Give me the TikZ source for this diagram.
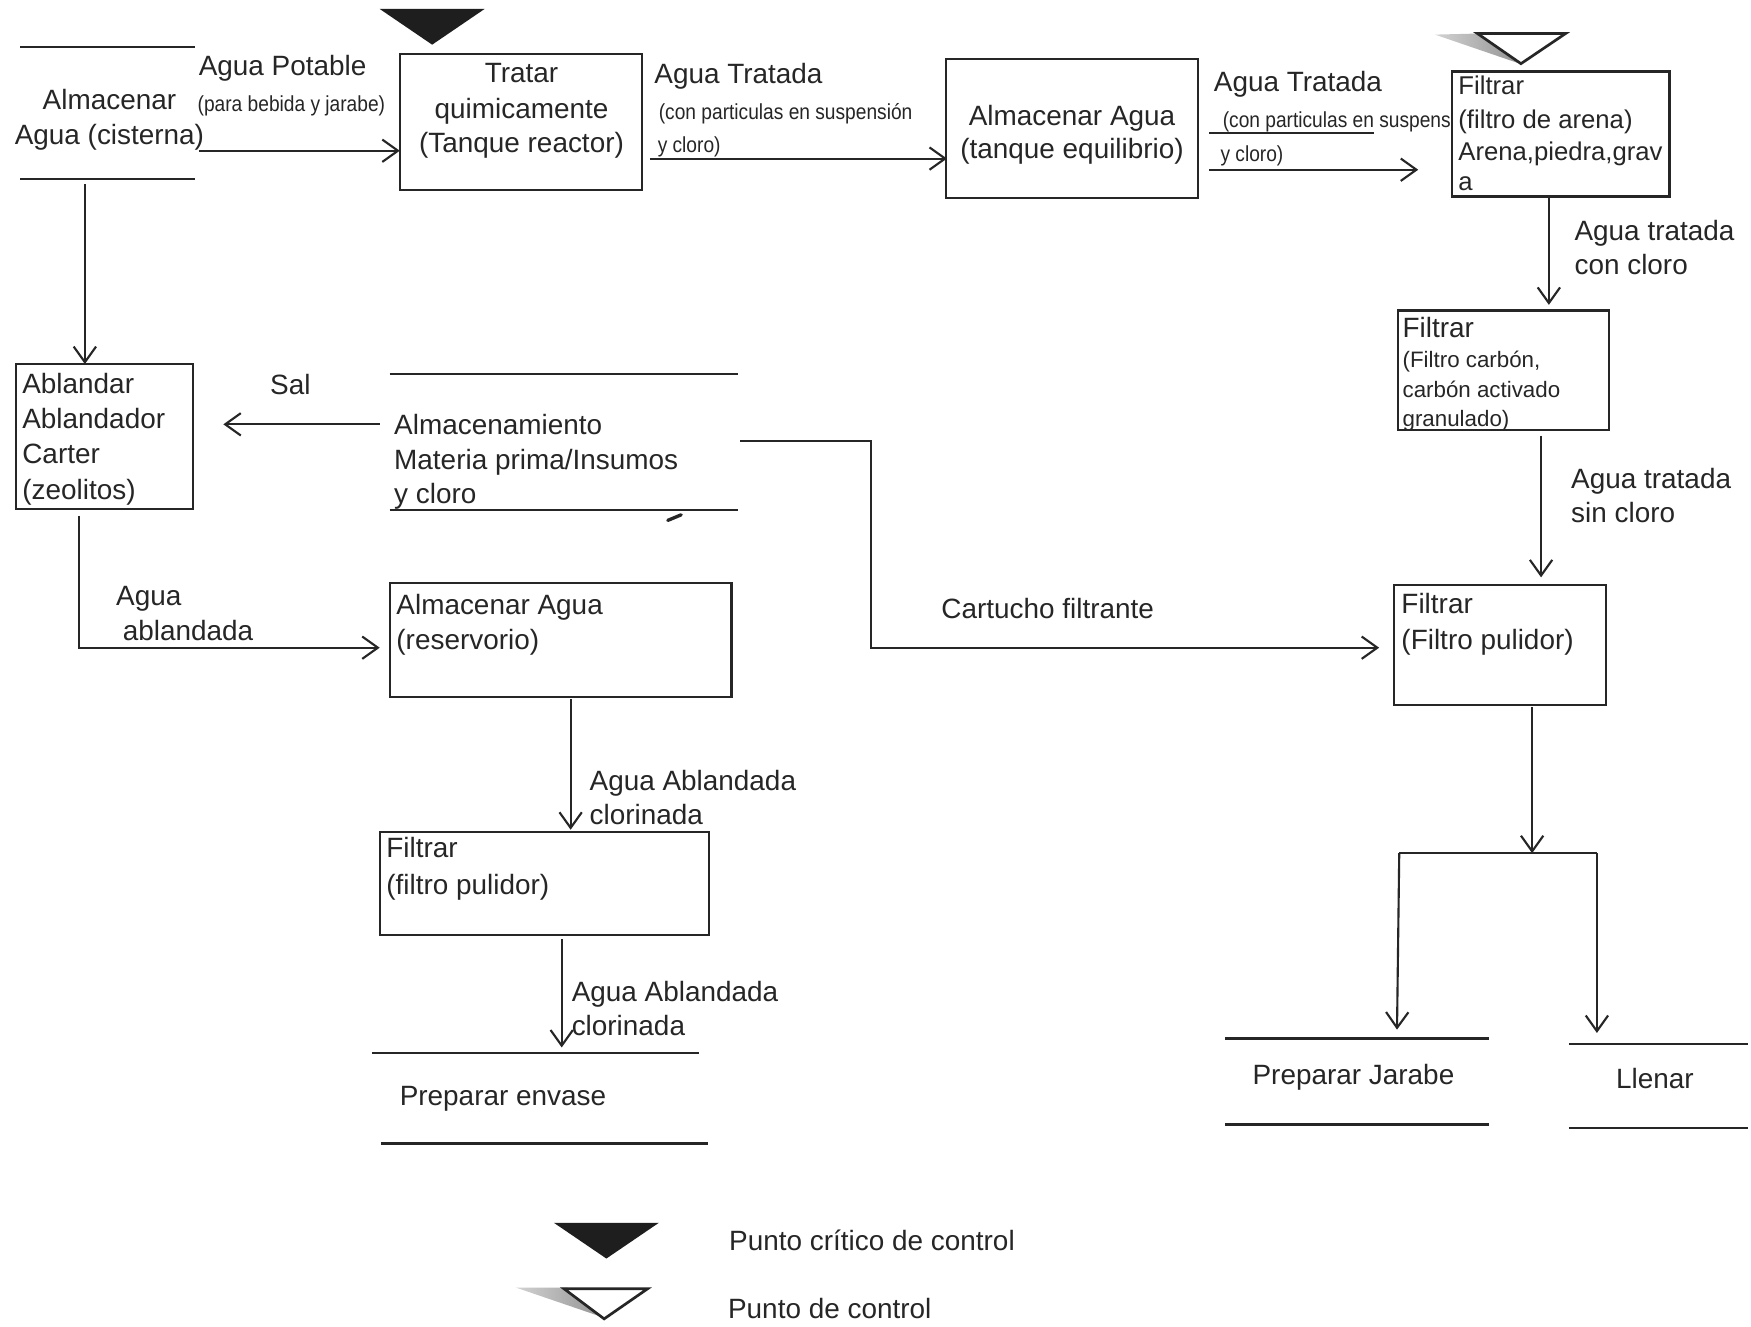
\documentclass[tikz,border=0pt]{standalone}
\usepackage{fontspec}
\setmainfont{Liberation Sans}
\newfontfamily\narrowfont[FakeStretch=0.88]{Liberation Sans}
\usetikzlibrary{arrows.meta,calc}
\definecolor{ink}{HTML}{262626}
\tikzset{
  every node/.style={inner sep=0pt, outer sep=0pt, text=ink},
  lbl/.style={anchor=base west, font=\fontsize{25}{31}\selectfont},
  lblc/.style={anchor=base, font=\fontsize{25}{31}\selectfont},
  mid/.style={anchor=base west, font=\fontsize{23}{29}\selectfont},
  sml/.style={anchor=base west, font=\fontsize{20}{27}\selectfont},
  tiny/.style={anchor=base west, font=\narrowfont\fontsize{19.5}{24}\selectfont},
  proc/.style={draw=ink, line width=1.9pt, rectangle, anchor=north west},
  store/.style={rectangle, anchor=north west},
  wire/.style={draw=ink, line width=1.9pt},
  flow/.style={wire, -{Straight Barb[length=14pt,width=20pt]}},
  shadowmark/.style={left color=gray!35, right color=gray!85},
}
\begin{document}
\begin{tikzpicture}[x=1pt,y=-1pt]
\fill[white] (0,0) rectangle (1568,1188);
\useasboundingbox (0,0) rectangle (1568,1188);

% ---------- process boxes ----------
\node[proc, minimum width=217pt, minimum height=122pt] (trat)  at (358,48)  {};
\node[proc, minimum width=226pt, minimum height=124pt] (equil) at (847,53)  {};
\node[proc, minimum width=195pt, minimum height=112pt] (fil1)  at (1300,64) {};
\node[proc, minimum width=189pt, minimum height=107pt] (fil2)  at (1252,278) {};
\node[proc, minimum width=190pt, minimum height=107pt] (fil3)  at (1248,524) {};
\node[proc, minimum width=159pt, minimum height=130pt] (abl)   at (14,326)  {};
\node[proc, minimum width=306pt, minimum height=102pt] (res)   at (349,522) {};
\node[proc, minimum width=295pt, minimum height=92pt]  (fil4)  at (340,745) {};

% ---------- stores (two parallel lines) ----------
\node[store, minimum width=157pt, minimum height=118pt] (cist) at (18,42)   {};
\node[store, minimum width=312pt, minimum height=122pt] (alm)  at (349,335) {};
\node[store, minimum width=301pt, minimum height=81pt]  (env)  at (333,943) {};
\node[store, minimum width=236pt, minimum height=77pt]  (jar)  at (1097,930) {};
\node[store, minimum width=160pt, minimum height=75pt]  (lle)  at (1405,935) {};
\foreach \s in {cist,alm,jar,lle}{
  \draw[wire] (\s.north west) -- (\s.north east);
  \draw[wire] (\s.south west) -- (\s.south east);
}
\draw[wire] (env.north west) -- ([xshift=-8pt]env.north east);
\draw[wire] ([xshift=8pt]env.south west) -- (env.south east);

% ---------- texts ----------
\node[lblc] (tcist1) at (98,98)  {Almacenar};
\node[lblc] (tcist2) at (98,129) {Agua (cisterna)};

\node[lbl]  (lpot1) at (178,68)  {Agua Potable};
\node[tiny] (lpot2) at (177,100) {(para bebida y jarabe)};

\node[lblc] (ttrat1) at (467,74)  {Tratar};
\node[lblc] (ttrat2) at (467,106) {quimicamente};
\node[lblc] (ttrat3) at (467,137) {(Tanque reactor)};

\node[lbl]  (ltr1) at (586,75)  {Agua Tratada};
\node[tiny] (ltr2) at (590,107) {(con particulas en suspensión};
\node[tiny] (ltr3) at (589,137) {y cloro)};

\node[lblc] (tequ1) at (960,112) {Almacenar Agua};
\node[lblc] (tequ2) at (960,142) {(tanque equilibrio)};

\node[lbl]  (ltr4) at (1087,82)  {Agua Tratada};
\node[tiny] (ltr5) at (1095,114) {(con particulas en suspens};
\node[tiny] (ltr6) at (1093,145) {y cloro)};

\node[mid] (tf11) at (1306,85)  {Filtrar};
\node[mid] (tf12) at (1306,115) {(filtro de arena)};
\node[mid] (tf13) at (1306,144) {Arena,piedra,grav};
\node[mid] (tf14) at (1306,171) {a};

\node[lbl] (lcc1) at (1410,215) {Agua tratada};
\node[lbl] (lcc2) at (1410,246) {con cloro};

\node[lbl] (tf21) at (1256,302) {Filtrar};
\node[sml] (tf22) at (1256,329) {(Filtro carbón,};
\node[sml] (tf23) at (1256,356) {carbón activado};
\node[sml] (tf24) at (1256,382) {granulado)};

\node[lbl] (lsc1) at (1407,437) {Agua tratada};
\node[lbl] (lsc2) at (1407,468) {sin cloro};

\node[lbl] (tf31) at (1255,549) {Filtrar};
\node[lbl] (tf32) at (1255,582) {(Filtro pulidor)};

\node[lblc] (tjar) at (1212,971) {Preparar Jarabe};
\node[lblc] (tlle) at (1482,975) {Llenar};

\node[lbl] (tab1) at (20,352) {Ablandar};
\node[lbl] (tab2) at (20,384) {Ablandador};
\node[lbl] (tab3) at (20,415) {Carter};
\node[lbl] (tab4) at (20,447) {(zeolitos)};

\node[lbl] (lsal) at (242,353) {Sal};

\node[lbl] (tal1) at (353,389) {Almacenamiento};
\node[lbl] (tal2) at (353,420) {Materia prima/Insumos};
\node[lbl] (tal3) at (353,451) {y cloro};

\node[lbl] (lab1) at (104,542) {Agua};
\node[lbl] (lab2) at (110,574) {ablandada};

\node[lbl] (tres1) at (355,550) {Almacenar Agua};
\node[lbl] (tres2) at (355,582) {(reservorio)};

\node[lbl] (lcart) at (843,554) {Cartucho filtrante};

\node[lbl] (lac1) at (528,708) {Agua Ablandada};
\node[lbl] (lac2) at (528,738) {clorinada};

\node[lbl] (tf41) at (346,768) {Filtrar};
\node[lbl] (tf42) at (346,801) {(filtro pulidor)};

\node[lbl] (lac3) at (512,897) {Agua Ablandada};
\node[lbl] (lac4) at (512,927) {clorinada};

\node[lbl] (tenv) at (358,990) {Preparar envase};

% ---------- connectors ----------
\draw[flow] ([shift={(3,93)}]cist.north east) -- ([shift={(0,87)}]trat.north west);
\draw[flow] ([shift={(7,94)}]trat.north east) -- ([shift={(1,89)}]equil.north west);
\draw[wire] ([shift={(10,66)}]equil.north east) -- ([shift={(157,66)}]equil.north east);
\draw[flow] ([shift={(10,99)}]equil.north east) -- ([shift={(-30,88)}]fil1.north west);
\draw[flow] ([shift={(87,1)}]fil1.south west) -- ([shift={(135,-5)}]fil2.north west);
\draw[flow] ([shift={(128,5)}]fil2.south west) -- ([shift={(132,-7)}]fil3.north west);

\coordinate (split)  at (1372,764);
\coordinate (splitL) at (1253,764);
\coordinate (splitR) at (1430,764);
\draw[flow] ([shift={(124,2)}]fil3.south west) -- (split);
\draw[wire] (splitL) -- (splitR);
\draw[flow] (splitL) -- ([shift={(154,-8)}]jar.north west);
\draw[flow] (splitR) -- ([shift={(25,-10)}]lle.north west);

\draw[flow] ([shift={(58,5)}]cist.south west) -- ([shift={(62,0)}]abl.north west);
\draw[flow] ([shift={(-9,45)}]alm.north west) -- ([shift={(27,54)}]abl.north east);
\draw[flow] ([shift={(2,60)}]alm.north east) -- ++(117,0) |- ([shift={(-13,56)}]fil3.north west);
\draw[flow] ([shift={(57,6)}]abl.south west) |- ([shift={(-9,58)}]res.north west);
\draw[flow] ([shift={(162,2)}]res.south west) -- ([shift={(171,-2)}]fil4.north west);
\draw[flow] ([shift={(163,4)}]fil4.south west) -- ([shift={(170,-5)}]env.north west);

% stray pen mark under the raw-material store
\draw[ink, line width=3pt, line cap=round] (598,466) -- (610,461);

% ---------- control point marks ----------
\fill[ink!80!black] (340,8) -- (434,8) -- (387,40) -- cycle;
\shade[shadowmark] (1285,31) -- (1325,30) -- (1361,57) -- cycle;
\draw[ink, line width=2.4pt, fill=white] (1323,30) -- (1402,30) -- (1362,57) -- cycle;

% ---------- legend ----------
\fill[ink!80!black] (496,1095) -- (590,1095) -- (543,1127) -- cycle;
\node[lbl] (leg1) at (653,1120) {Punto crítico de control};
\shade[shadowmark] (462,1153) -- (508,1153) -- (541,1180) -- cycle;
\draw[ink, line width=2.4pt, fill=white] (505,1154) -- (580,1154) -- (541,1181) -- cycle;
\node[lbl] (leg2) at (652,1181) {Punto de control};
\end{tikzpicture}
\end{document}
